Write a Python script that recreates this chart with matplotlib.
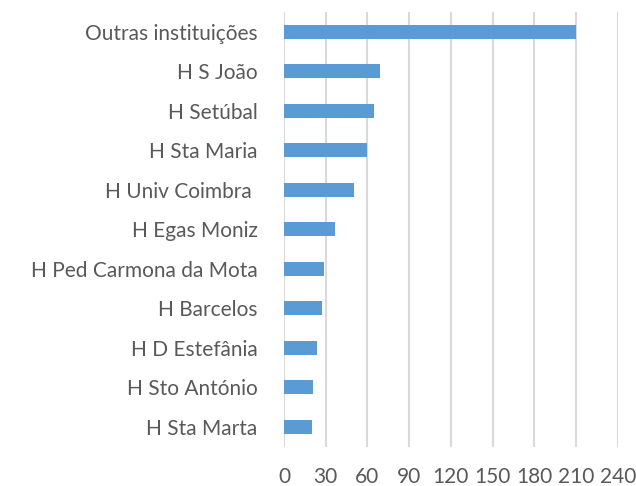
import matplotlib
matplotlib.use("Agg")
import matplotlib.pyplot as plt

# hospitais e número de casos
hospitais = ["Outras instituições", "H S João", "H Setúbal", "H Sta Maria",
             "H Univ Coimbra ", "H Egas Moniz", "H Ped Carmona da Mota",
             "H Barcelos", "H D Estefânia", "H Sto António", "H Sta Marta"]
valores = [210, 69, 65, 60, 50, 37, 29, 27, 24, 21, 20]
ticks_x = [0, 30, 60, 90, 120, 150, 180, 210, 240]

plt.rcParams['font.family'] = ['Lato', 'DejaVu Sans']

fig = plt.figure(figsize=(6.36, 4.86), dpi=100)
ax = fig.add_axes([0.4465, 0.081, 0.525, 0.894])

pos = list(range(len(hospitais)))
ax.barh(pos, valores, height=0.355, color="#5b9bd5", zorder=3)
ax.set_ylim(len(hospitais) - 0.5, -0.5)
ax.set_xlim(0, 240)
ax.set_xticks(ticks_x)
ax.set_yticks(pos)
ax.set_yticklabels(hospitais)
ax.grid(axis="x", color="#d9d9d9", linewidth=1.5, zorder=0)
for s in ax.spines.values():
    s.set_visible(False)
ax.tick_params(length=0, labelsize=15, colors="#595959")
ax.tick_params(axis="y", pad=19)
ax.tick_params(axis="x", pad=14.5)

fig.savefig("out.png", dpi=100)
